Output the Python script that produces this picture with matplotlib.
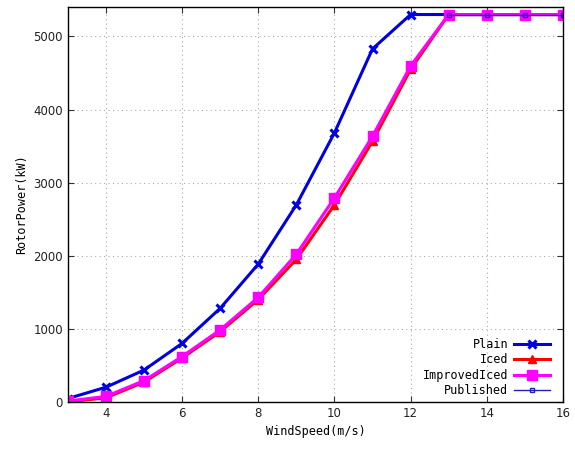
import matplotlib
matplotlib.use("Agg")
import matplotlib.pyplot as plt

wind_speed = [3, 4, 5, 6, 7, 8, 9, 10, 11, 12, 13, 14, 15, 16]
plain = [45, 200, 435, 800, 1280, 1885, 2695, 3680, 4830, 5300, 5300, 5300, 5300, 5300]
iced = [0, 55, 270, 600, 960, 1400, 1950, 2695, 3565, 4550, 5300, 5300, 5300, 5300]
improved_iced = [10, 75, 290, 620, 985, 1430, 2020, 2790, 3635, 4595, 5300, 5300, 5300, 5300]
published_speed = [13, 14, 15, 16]
published = [5300, 5300, 5300, 5300]

MONO = "DejaVu Sans Mono"


def main():
    fig = plt.figure(figsize=(5.75, 4.51), dpi=100)
    ax = fig.add_axes([0.118, 0.109, 0.861, 0.875])

    ax.plot(wind_speed, plain, color="#0000e0", lw=2.2, marker="x",
            ms=6, mew=2.2, label="Plain")
    ax.plot(wind_speed, iced, color="#ff0000", lw=2.2, marker="^",
            ms=6, label="Iced")
    ax.plot(wind_speed, improved_iced, color="#ff00ff", lw=2.2, marker="s",
            ms=6.5, label="ImprovedIced")
    ax.plot(published_speed, published, color="#2020c0", lw=1, marker="s",
            ms=3.5, mfc="none", mew=1, label="Published")

    ax.set_xlim(3, 16)
    ax.set_ylim(0, 5400)
    ax.set_xticks([4, 6, 8, 10, 12, 14, 16])
    ax.set_yticks([0, 1000, 2000, 3000, 4000, 5000])
    ax.grid(True, linestyle=(0, (1, 3)), color="#aaaaaa", lw=0.8)
    ax.tick_params(direction="in", top=True, right=True, length=4,
                   labelsize=8.5, colors="#333333", labelcolor="#222222")
    for s in ax.spines.values():
        s.set_linewidth(1)

    ax.set_xlabel("WindSpeed(m/s)", fontsize=8.5, family=MONO)
    ax.set_ylabel("RotorPower(kW)", fontsize=8.5, family=MONO)

    ax.legend(loc="lower right", bbox_to_anchor=(0.983, 0.0),
              frameon=False, markerfirst=False,
              prop={"family": MONO, "size": 8.5}, handlelength=3.0,
              handletextpad=0.5, labelspacing=0.2, borderaxespad=0.0)

    fig.savefig("out.png", dpi=100)
    plt.close(fig)


if __name__ == "__main__":
    main()
